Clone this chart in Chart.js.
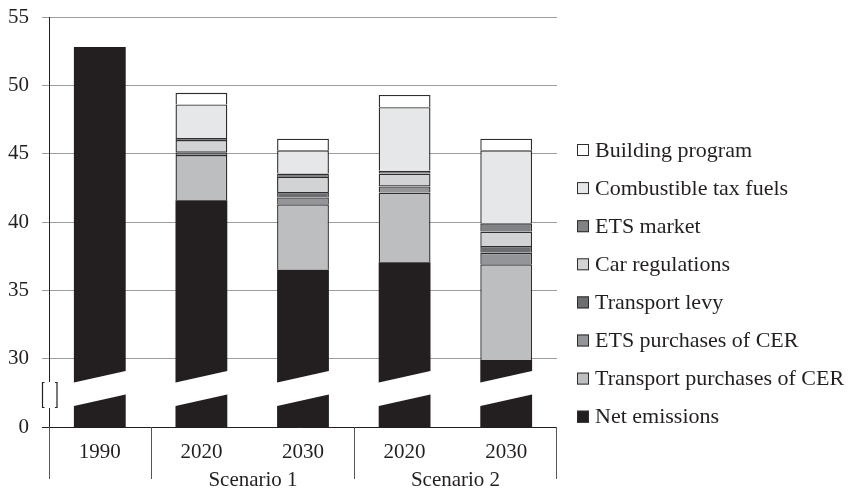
<!DOCTYPE html>
<html>
<head>
<meta charset="utf-8">
<script src="https://cdn.jsdelivr.net/npm/chart.js@4/dist/chart.umd.min.js"></script>
<style>
    html, body { margin: 0; padding: 0; background: #fff; }
</style>
</head>
<body>
<canvas id="emissionsChart" width="855" height="491"></canvas>
<script>
// categories along the x axis and the scenario groups under them
const categories = ['1990', '2020', '2030', '2020', '2030'];
const groupLabels = ['Scenario 1', 'Scenario 2'];

// stacked series, bottom to top (1990 only has net emissions)
const netEmissions = [52.8, 41.6, 36.5, 37.05, 29.9];
const transportCER = [null, 3.3, 4.8, 5.1, 7.0];
const etsCER = [null, 0.2, 0.5, 0.45, 0.85];
const transportLevy = [null, 0.1, 0.4, 0.1, 0.5];
const carRegulations = [null, 0.8, 1.1, 0.85, 1.05];
const etsMarket = [null, 0.15, 0.25, 0.2, 0.6];
const combustibleTax = [null, 2.45, 1.7, 4.65, 5.35];
const buildingProgram = [null, 0.85, 0.85, 0.9, 0.85];

// y axis: broken below 30, the bottom tick is shown as 0
const yMin = 25;
const yMax = 55;
const yStep = 5;

const serif = "'Liberation Serif', 'Times New Roman', serif";
const textColor = '#231f20';
const edgeColor = '#2f2d2e';

function series(label, data, color, border) {
    return {
        label: label,
        data: data,
        backgroundColor: color,
        borderColor: edgeColor,
        borderWidth: border,
        barPercentage: 0.51,
        categoryPercentage: 1.0
    };
}

const datasets = [
    series('Net emissions', netEmissions, '#231f20', 0),
    series('Transport purchases of CER', transportCER, '#bcbec0', 1.4),
    series('ETS purchases of CER', etsCER, '#939598', 1.4),
    series('Transport levy', transportLevy, '#6d6e71', 1.4),
    series('Car regulations', carRegulations, '#d1d3d4', 1.4),
    series('ETS market', etsMarket, '#808285', 1.4),
    series('Combustible tax fuels', combustibleTax, '#e6e7e8', 1.4),
    series('Building program', buildingProgram, '#ffffff', 1.4)
];

// white diagonal cut through the bars, broken axis marker, x axis groups, legend
const extras = {
    id: 'extras',
    afterDatasetsDraw(chart) {
        const ctx = chart.ctx;
        const y = chart.scales.y;
        const bottom = y.getPixelForValue(yMin);
        const meta = chart.getDatasetMeta(0);
        ctx.save();
        ctx.fillStyle = '#ffffff';
        meta.data.forEach(function (bar) {
            const l = bar.x - bar.width / 2 - 1;
            const r = bar.x + bar.width / 2 + 1;
            ctx.beginPath();
            ctx.moveTo(l, bottom - 44.2);
            ctx.lineTo(r, bottom - 56.2);
            ctx.lineTo(r, bottom - 32.8);
            ctx.lineTo(l, bottom - 20.8);
            ctx.closePath();
            ctx.fill();
        });
        ctx.restore();
    },
    afterDraw(chart) {
        const ctx = chart.ctx;
        const area = chart.chartArea;
        const x = chart.scales.x;
        const y = chart.scales.y;
        const bottom = y.getPixelForValue(yMin);
        const left = area.left;

        ctx.save();
        // gap in the y axis with the bracket marker
        ctx.fillStyle = '#ffffff';
        ctx.fillRect(left - 3, bottom - 45, 6, 26);
        ctx.strokeStyle = textColor;
        ctx.lineWidth = 1.2;
        ctx.beginPath();
        ctx.moveTo(left - 4.5, bottom - 44.5);
        ctx.lineTo(left - 6.5, bottom - 44.5);
        ctx.lineTo(left - 6.5, bottom - 19.5);
        ctx.lineTo(left - 4.5, bottom - 19.5);
        ctx.moveTo(left + 6, bottom - 44.5);
        ctx.lineTo(left + 8, bottom - 44.5);
        ctx.lineTo(left + 8, bottom - 19.5);
        ctx.lineTo(left + 6, bottom - 19.5);
        ctx.stroke();

        // x axis line
        ctx.lineWidth = 1;
        ctx.strokeStyle = textColor;
        ctx.beginPath();
        ctx.moveTo(left - 7, bottom + 0.5);
        ctx.lineTo(area.right, bottom + 0.5);
        ctx.stroke();

        // group separators under the axis
        const b1 = Math.round((x.getPixelForTick(0) + x.getPixelForTick(1)) / 2) + 0.5;
        const b2 = Math.round((x.getPixelForTick(2) + x.getPixelForTick(3)) / 2) + 0.5;
        const seps = [Math.round(left) + 0.5, b1, b2, Math.round(area.right) - 0.5];
        ctx.strokeStyle = '#555555';
        ctx.beginPath();
        seps.forEach(function (sx) {
            ctx.moveTo(sx, bottom);
            ctx.lineTo(sx, bottom + 52);
        });
        ctx.stroke();

        // scenario labels
        ctx.fillStyle = textColor;
        ctx.font = '21px ' + serif;
        ctx.textAlign = 'center';
        ctx.textBaseline = 'middle';
        ctx.fillText(groupLabels[0], (b1 + b2) / 2, bottom + 53);
        ctx.fillText(groupLabels[1], (b2 + seps[3]) / 2, bottom + 53);

        // legend, top of stack first
        const lx = 577;
        let ly = 150;
        ctx.font = '22px ' + serif;
        ctx.textAlign = 'left';
        for (let i = datasets.length - 1; i >= 0; i--) {
            const ds = datasets[i];
            ctx.fillStyle = ds.backgroundColor;
            ctx.fillRect(lx, ly - 6, 12, 12);
            ctx.strokeStyle = edgeColor;
            ctx.strokeRect(lx + 0.5, ly - 5.5, 11, 11);
            ctx.fillStyle = textColor;
            ctx.fillText(ds.label, lx + 18, ly + 1);
            ly += 38.1;
        }
        ctx.restore();
    }
};

const ctx = document.getElementById('emissionsChart').getContext('2d');
const chart = new Chart(ctx, {
    type: 'bar',
    data: {
        labels: categories,
        datasets: datasets
    },
    options: {
        responsive: false,
        animation: false,
        devicePixelRatio: 1,
        layout: {
            autoPadding: false,
            padding: { left: 0, right: 298, top: 17, bottom: 0 }
        },
        plugins: {
            legend: { display: false },
            tooltip: { enabled: false }
        },
        scales: {
            x: {
                stacked: true,
                grid: { display: false },
                border: { display: false },
                ticks: {
                    color: textColor,
                    font: { family: serif, size: 21 },
                    padding: 5
                },
                afterFit: function (scale) {
                    scale.height = 64;
                    scale.paddingLeft = 0;
                    scale.paddingRight = 0;
                }
            },
            y: {
                stacked: true,
                min: yMin,
                max: yMax,
                grid: {
                    color: '#9d9d9d',
                    tickLength: 7,
                    tickColor: '#9d9d9d'
                },
                border: { display: true, color: textColor, width: 1 },
                ticks: {
                    stepSize: yStep,
                    color: textColor,
                    font: { family: serif, size: 21 },
                    padding: 13,
                    callback: function (v) { return v === yMin ? '0' : v; }
                },
                afterFit: function (scale) {
                    scale.width = 49;
                    scale.paddingTop = 0;
                    scale.paddingBottom = 0;
                }
            }
        }
    },
    plugins: [extras]
});
</script>
</body>
</html>
